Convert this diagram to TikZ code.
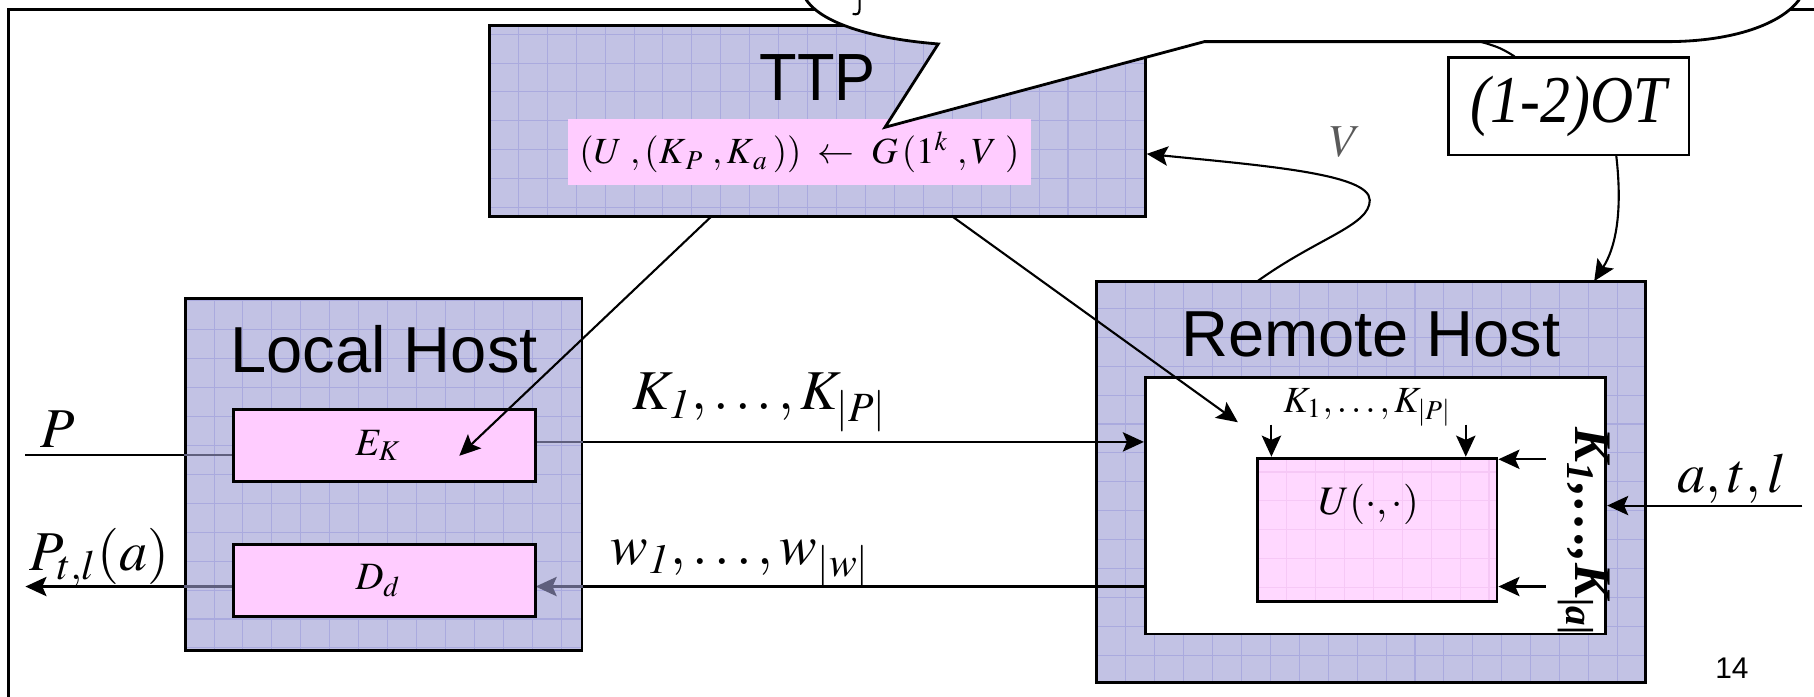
\documentclass[tikz,border=0pt]{standalone}
\usepackage{mathptmx}
\usepackage{fontspec}
\setmainfont{Liberation Serif}
\newfontfamily\arialf{Liberation Sans}
\usetikzlibrary{arrows.meta,fit}
\definecolor{lav}{RGB}{194,194,228}
\definecolor{gridc}{RGB}{170,170,222}
\definecolor{pinkc}{RGB}{255,204,255}
\definecolor{pinkl}{RGB}{255,216,255}
\definecolor{pinkg}{RGB}{246,200,246}
\definecolor{vgray}{RGB}{90,90,90}
\definecolor{dimline}{RGB}{95,95,125}
\tikzset{
  gridded/.style={path picture={\draw[#1, line width=0.3pt, step=8.23pt] (path picture bounding box.south west) grid (path picture bounding box.north east);}},
  hostbox/.style={fit={#1}, inner sep=0pt, draw=black, line width=0.8pt, fill=lav, gridded=gridc},
  pinkbox/.style={fit={#1}, inner sep=0pt, draw=black, line width=0.8pt, fill=pinkc},
  plainbox/.style={fit={#1}, inner sep=0pt, draw=black, line width=0.8pt, fill=white},
  arr/.style={line width=0.6pt, -{Stealth[length=6pt,width=5.5pt,inset=1.2pt]}},
  conn/.style={line width=0.6pt},
  title/.style={font=\arialf\fontsize{18.5}{20}\selectfont, anchor=base, inner sep=0pt},
  mlabel/.style={font=\fontsize{16}{18}\selectfont, inner sep=0pt},
  slabel/.style={font=\fontsize{10.5}{12}\selectfont, inner sep=0pt},
}
\begin{document}
\begin{tikzpicture}[x=0.01157cm,y=-0.01157cm]
\useasboundingbox (0,0) rectangle (1568,602);
\clip (0,0) rectangle (1568,602);
% frame
\draw[line width=0.8pt] (1600,8) -- (7,8) -- (7,640);

% TTP box
\node[hostbox={(423,22) (990,187)}] (ttp) {};
\node[title, font=\arialf\fontsize{19}{20}\selectfont, xscale=0.92] (ttpt) at (707,87) {TTP};
\node[fit={(491,103) (891,160)}, inner sep=0pt, fill=pinkc] (gen) {};
\node[slabel] (gent) at (gen) {$(U\;,(K_{\,P}\;,K_{\,a}\,))\;\leftarrow\;G\,(1^{k}\;,V\;)$};

% hidden connector under the callout
\coordinate (hid) at (1250,28);
% (1-2)OT box
\node[plainbox={(1252,50) (1460,134)}] (ot) {};
\node[font=\fontsize{17}{18}\selectfont\itshape, inner sep=0pt, yscale=1.12] (ott) at (ot) {(1-2)OT};
\draw[conn] ([xshift=-0.6pt]ot.north) ++(-45,0) coordinate (otn) .. controls (1295,40) .. (hid);

% Remote host
\node[hostbox={(948,243) (1422,590)}] (rh) {};
\node[title] (rht) at (1185,308) {Remote Host};
\node[plainbox={(990,326) (1388,548)}] (inner) {};
\node[fit={(1087,396) (1294,520)}, inner sep=0pt, draw=black, line width=0.8pt, fill=pinkl, gridded=pinkg] (ub) {};
\node[font=\fontsize{11.5}{13}\selectfont, inner sep=0pt] (ubt) at (1183,436) {$U(\cdot,\cdot)$};
\node[slabel] (kp) at (1182,352) {$K_{1},\ldots,K_{|P|}$};
\coordinate (d1) at (1099,367);
\coordinate (d2) at (1267,367);
\draw[arr] (d1) -- (d1 |- ub.north);
\draw[arr] (d2) -- (d2 |- ub.north);
\coordinate (r1) at (1336,397);
\coordinate (r2) at (1336,507);
\draw[arr] (r1) -- (r1 -| ub.east);
\draw[arr] (r2) -- (r2 -| ub.east);
\node[rotate=-90, font=\fontsize{15}{16}\selectfont\bfseries\itshape, inner sep=0pt] (kal) at (1369,460) {K\textsubscript{1},\ldots,K\textsubscript{|a|}};
\coordinate (atl) at (1558,437);
\draw[arr] (atl) -- (atl -| inner.east);
\node[mlabel] (atlt) at (1497,414) {$a,t,l$};

% links between hosts
\coordinate (ks) at (463,382);
\coordinate (ws) at (990,507);
\coordinate (pin) at (22,393);
\coordinate (pout) at (22,507);
\draw[arr] (ks) -- (ks -| inner.west);
\draw[conn] (ws) -- (463,507) coordinate (we);
\draw[conn] (pin) -- (202,393);
\draw[arr] (202,507) -- (pout);

% Local host
\node[hostbox={(160,258) (503,562)}] (lh) {};
% link parts seen through the local host box
\draw[conn, dimline] (lh.west |- pin) -- (202,393);
\draw[conn, dimline] (202,507) -- (lh.west |- pout);
\draw[conn, dimline] (ks) -- (ks -| lh.east);
\draw[line width=0.6pt, dimline, -{Stealth[length=6pt,width=5.5pt,inset=1.2pt]}] (ws -| lh.east) -- (we);
\node[title] (lht) at (332,322) {Local Host};
\node[pinkbox={(202,354) (463,416)}] (ek) {};
\node[font=\fontsize{11}{12}\selectfont, inner sep=0pt] (ekt) at (327,385) {$E_{K}$};
\node[pinkbox={(202,471) (463,533)}] (dd) {};
\node[font=\fontsize{11}{12}\selectfont, inner sep=0pt] (ddt) at (327,502) {$D_{d}$};

% labels on links
\node[mlabel] (kl) at (657,348) {$K_{\mathit{1}},\ldots,K_{|P|}$};
\node[mlabel] (wl) at (640,487) {$w_{\mathit{1}},\ldots,w_{|w|}$};
\node[mlabel] (pl) at (50,371) {$P$};
\node[mlabel] (ptl) at (86,482) {$P_{t,l}(a)$};

% TTP outgoing arrows
\coordinate (t1) at (615,187);
\coordinate (t2) at (823,187);
\coordinate (ekin) at (397,394);
\coordinate (rin) at (1070,365);
\draw[arr] (t1) -- (ekin);
\draw[arr] (t2) -- (rin);

% V curve
\coordinate (vs) at (1087,243);
\coordinate (vm) at (1184,173);
\draw[arr] (vs) .. controls (1140,205) and (1184,195) .. (vm) .. controls (1184,150) and (1090,143) .. (ttp.east |- 0,133);
\node[font=\fontsize{13}{14}\selectfont, text=vgray, inner sep=0pt] (vl) at (1163,123) {$V$};

% OT arrow
\coordinate (os) at (1397,134);
\draw[arr] (os) .. controls (1403,185) and (1396,215) .. (1378,243) coordinate (oe);

% callout
\draw[line width=0.8pt, fill=white] (690,-20) -- (697,0) .. controls (712,22) and (760,34) .. (811,38) -- (765,110) -- (1041,36) -- (1440,36) .. controls (1500,36) and (1540,20) .. (1555,0) -- (1562,-20) -- cycle;
\draw[line width=0.6pt] (743,-5) -- (743,8) .. controls (743,12) and (741,13) .. (737,12);

% page number
\node[font=\arialf\fontsize{8.5}{9}\selectfont, inner sep=0pt] (pg) at (1497,578) {14};
\end{tikzpicture}
\end{document}
